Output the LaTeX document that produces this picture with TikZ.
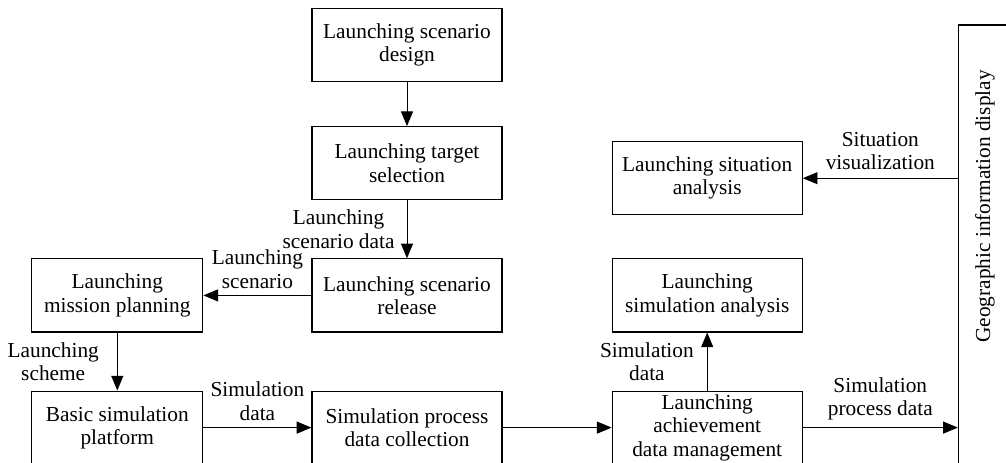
\documentclass[tikz,border=0pt]{standalone}
\usepackage{fontspec}
\setmainfont{Liberation Serif}
\usepackage{tikz}
\usetikzlibrary{positioning,arrows.meta}

\begin{document}
\begin{tikzpicture}[x=0.75pt,y=0.75pt,
		blk/.style={draw=black,line width=0.9pt,minimum width=142.5pt,minimum height=54.75pt,inner sep=1pt,align=center},
		lbl/.style={align=center,inner sep=2pt},
		arr/.style={-{Triangle[length=11pt,width=9pt]},line width=0.7pt},
		font=\fontsize{16}{17.5}\selectfont]
		\useasboundingbox (0,-1.5) rectangle (1006,-464.5);
		
		\node[blk] (design) at (407,-46.5) {Launching scenario\\design};
		\node[blk,below=33pt of design] (target) {Launching target\\selection};
		\node[blk,below=43.5pt of target] (release) {Launching scenario\\release};
		\node[blk,minimum width=128.25pt,left=81pt of release] (mission) {Launching\\mission planning};
		\node[blk,minimum width=128.25pt,below=43.5pt of mission] (basic) {Basic simulation\\platform};
		\node[blk,right=81pt of basic] (collect) {Simulation process\\data collection};
		\node[blk,right=81.75pt of collect] (achieve) {Launching\\achievement\\data management};
		\node[blk,above=43.5pt of achieve] (simana) {Launching\\simulation analysis};
		\node[blk,above=32.25pt of simana] (situ) {Launching situation\\analysis};
		
		\node[draw=black,line width=0.9pt,minimum width=42pt,minimum height=329.25pt,anchor=south west] (geo) at ([xshift=116.25pt]achieve.south east) {};
		\node[rotate=90] (geotxt) at (985,-208) {Geographic information display};
		
		\draw[arr] (design.south)--(target.north);
		\draw[arr] (target.south)--(release.north) node[midway,left=7pt,lbl] (l1) {Launching\\scenario data};
		\draw[arr] (release.west)--(mission.east) node[midway,above=3pt,lbl] (l2) {Launching\\scenario};
		\draw[arr] (mission.south)--(basic.north) node[midway,left=11.5pt,lbl] (l3) {Launching\\scheme};
		\draw[arr] (basic.east)--(collect.west) node[midway,above=3pt,lbl] (l4) {Simulation\\data};
		\draw[arr] (collect.east)--(achieve.west);
		\draw[arr] (achieve.north)--(simana.south) node[midway,left=7.75pt,lbl] (l5) {Simulation\\data};
		\draw[arr] (achieve.east)--(achieve.east -| geo.west) node[midway,above=3pt,lbl] (l6) {Simulation\\process data};
		\draw[arr] (geo.west |- situ.east)--(situ.east) node[midway,above=4pt,lbl] (l7) {Situation\\visualization};
	\end{tikzpicture}
\end{document}
